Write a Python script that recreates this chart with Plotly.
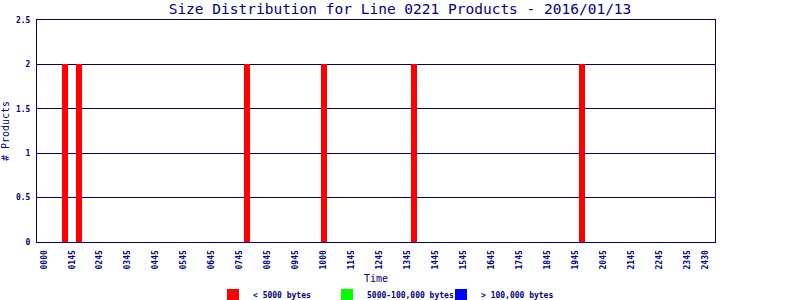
import plotly.graph_objects as go

# ---- data ----
bins = list(range(96))                      # 15-minute time bins
small_bins = [3, 5, 29, 40, 53, 77]         # bins that have products < 5000 bytes
small_counts = [2, 2, 2, 2, 2, 2]
medium_counts = [0, 0, 0, 0, 0, 0]
large_counts = [0, 0, 0, 0, 0, 0]

tick_pos = [0, 4, 8, 12, 16, 20, 24, 28, 32, 36, 40, 44, 48, 52, 56, 60,
            64, 68, 72, 76, 80, 84, 88, 92, 94.7]
tick_labels = ["0000", "0145", "0245", "0345", "0445", "0545", "0645", "0745",
               "0845", "0945", "1000", "1145", "1245", "1345", "1445", "1545",
               "1645", "1745", "1845", "1945", "2045", "2145", "2245", "2345", "2430"]

y_ticks = [0, 0.5, 1, 1.5, 2, 2.5]
y_labels = ["0", "0.5", "1", "1.5", "2", "2.5"]

title = "Size Distribution for Line 0221 Products - 2016/01/13"
navy = "#000080"
mono = "DejaVu Sans Mono"

fig = go.Figure()
fig.add_trace(go.Bar(x=small_bins, y=small_counts, name="< 5000 bytes",
                     marker=dict(color="#ff0000", line=dict(width=0)), width=0.86))
fig.add_trace(go.Bar(x=small_bins, y=medium_counts, name="5000-100,000 bytes",
                     marker=dict(color="#00ff00", line=dict(width=0)), width=0.86))
fig.add_trace(go.Bar(x=small_bins, y=large_counts, name="> 100,000 bytes",
                     marker=dict(color="#0000ff", line=dict(width=0)), width=0.86))

fig.update_layout(
    width=800, height=300,
    margin=dict(l=37, r=85, t=20, b=58, autoexpand=False),
    paper_bgcolor="white", plot_bgcolor="white",
    barmode="stack",
    title=dict(text=title, x=0.5, xanchor="center", y=1 - 9/300, yanchor="middle",
               font=dict(family=mono, size=14.5, color=navy)),
    font=dict(family=mono, color=navy, size=8),
    legend=dict(orientation="h", x=(213 - 37) / 678, xanchor="left", y=-0.239, yanchor="middle",
                font=dict(family=mono, size=8, color=navy, weight="bold"),
                entrywidth=69, entrywidthmode="pixels", itemwidth=30,
                bgcolor="rgba(0,0,0,0)", traceorder="normal"),
    showlegend=True,
)
fig.update_xaxes(
    range=[-1, 96], tickmode="array", tickvals=tick_pos, ticktext=tick_labels,
    tickangle=-90, ticks="", showgrid=False, zeroline=False,
    showline=True, linecolor=navy, linewidth=1, mirror=True,
    tickfont=dict(family=mono, size=8, color=navy, weight="bold"), ticklabelstandoff=4,
    title=dict(text="Time", font=dict(family=mono, size=10, color=navy), standoff=6),
    automargin=False,
)
fig.update_yaxes(
    range=[0, 2.5], tickmode="array", tickvals=y_ticks, ticktext=y_labels,
    ticks="", showgrid=True, gridcolor=navy, gridwidth=1, zeroline=False,
    showline=True, linecolor=navy, linewidth=1, mirror=True,
    tickfont=dict(family=mono, size=8, color=navy, weight="bold"), ticklabelstandoff=4,
    title=dict(text="# Products", font=dict(family=mono, size=10, color=navy), standoff=4),
    automargin=False,
)

fig.write_html("out.html")
